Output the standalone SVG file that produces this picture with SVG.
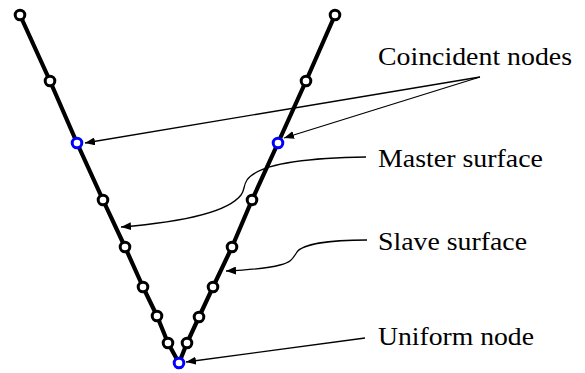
<svg xmlns="http://www.w3.org/2000/svg" width="585" height="373" viewBox="0 0 585 373">
<style>
.beam{fill:none;stroke:#000;stroke-width:4.2;stroke-linecap:round;stroke-linejoin:round}
.nd{fill:#fff;stroke:#000;stroke-width:3}
.bl{fill:#fff;stroke:#0000ff;stroke-width:3}
.con{fill:none;stroke:#000;stroke-width:1.3}
.lbl{font-family:"Liberation Serif","Times New Roman",serif;font-size:26px;fill:#000}
</style>
<defs>
<marker id="ah" viewBox="0 0 10 8" refX="10" refY="4" markerWidth="10" markerHeight="8" markerUnits="userSpaceOnUse" orient="auto">
<path d="M0,0 L10,4 L0,8 Z" fill="#000"/>
</marker>
</defs>
<rect width="585" height="373" fill="#fff"/>
<g id="surfaces">
<polyline class="beam" points="20,15 50,81 77,143 103,200 125,247 143,287 157,316 168,343 179,363"/>
<polyline class="beam" points="335,15 306,81 278,143 252,200 232,247 213,287 199,317 187,343 179,363"/>
</g>
<g id="connectors">
<line class="con" x1="480" y1="77" x2="85" y2="143" marker-end="url(#ah)"/>
<line class="con" x1="480" y1="77" x2="284" y2="138" marker-end="url(#ah)"/>
<path class="con" d="M366,157 C292,158 256,167 247,180 C243,186 245,190 241,195 C228,212 182,222 121,227" marker-end="url(#ah)"/>
<path class="con" d="M367,240 C330,240 303,244 297,252 C293,258 292,262 280,265 C265,269 246,270 226,271" marker-end="url(#ah)"/>
<line class="con" x1="365" y1="338" x2="186" y2="362" marker-end="url(#ah)"/>
</g>
<g id="nodes">
<circle id="n1" class="nd" cx="20" cy="15" r="4.8"/>
<circle id="n2" class="nd" cx="50" cy="81" r="4.8"/>
<circle id="n3" class="bl" cx="77" cy="143" r="4.8"/>
<circle id="n4" class="nd" cx="103" cy="200" r="4.8"/>
<circle id="n5" class="nd" cx="125" cy="247" r="4.8"/>
<circle id="n6" class="nd" cx="143" cy="287" r="4.8"/>
<circle id="n7" class="nd" cx="157" cy="316" r="4.8"/>
<circle id="n8" class="nd" cx="168" cy="343" r="4.8"/>
<circle id="n9" class="nd" cx="335" cy="15" r="4.8"/>
<circle id="n10" class="nd" cx="306" cy="81" r="4.8"/>
<circle id="n11" class="bl" cx="278" cy="143" r="4.8"/>
<circle id="n12" class="nd" cx="252" cy="200" r="4.8"/>
<circle id="n13" class="nd" cx="232" cy="247" r="4.8"/>
<circle id="n14" class="nd" cx="213" cy="287" r="4.8"/>
<circle id="n15" class="nd" cx="199" cy="317" r="4.8"/>
<circle id="n16" class="nd" cx="187" cy="343" r="4.8"/>
<circle id="n17" class="bl" cx="179" cy="363" r="4.8"/>
</g>
<g id="labels">
<text class="lbl" x="378" y="65" textLength="194" lengthAdjust="spacingAndGlyphs">Coincident nodes</text>
<text class="lbl" x="378" y="167" textLength="165" lengthAdjust="spacingAndGlyphs">Master surface</text>
<text class="lbl" x="378" y="250" textLength="149" lengthAdjust="spacingAndGlyphs">Slave surface</text>
<text class="lbl" x="378" y="345" textLength="156" lengthAdjust="spacingAndGlyphs">Uniform node</text>
</g>
</svg>
